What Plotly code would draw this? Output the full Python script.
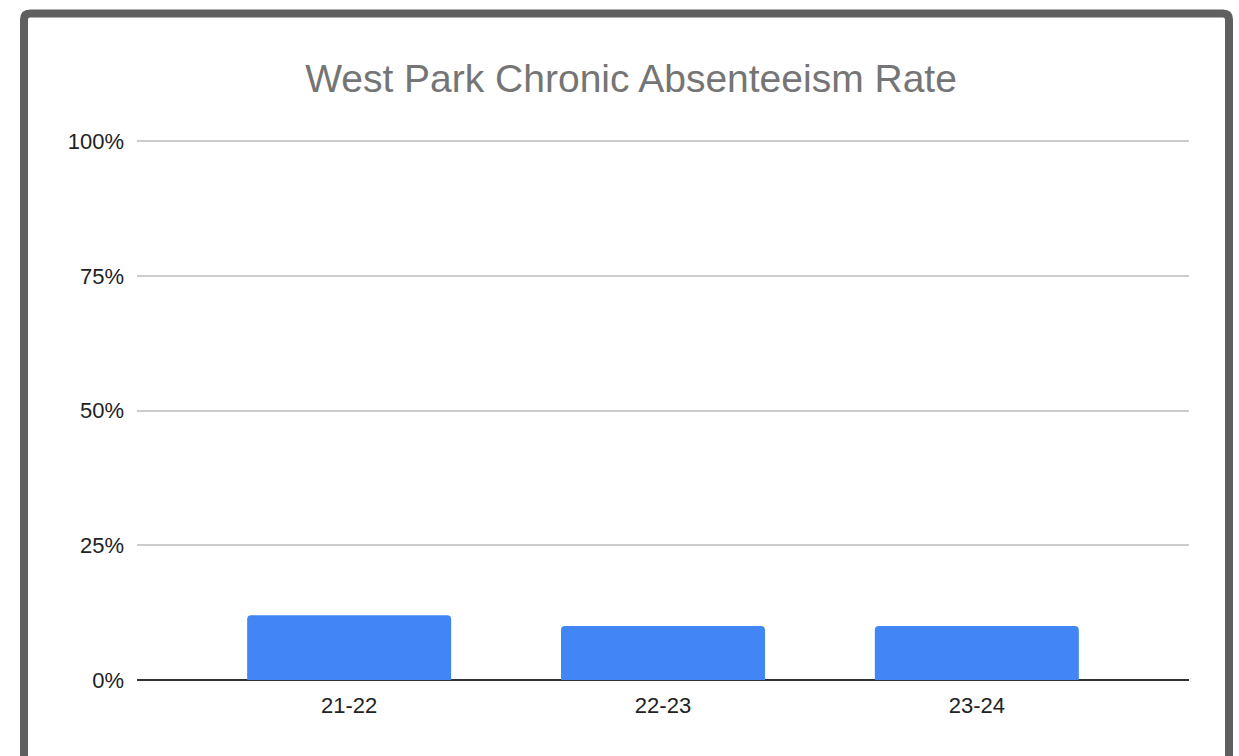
import plotly.graph_objects as go

categories = ["21-22", "22-23", "23-24"]
rates = [0.12, 0.10, 0.10]
y_ticks = [0, 0.25, 0.5, 0.75, 1.0]
y_tick_labels = ["0%", "25%", "50%", "75%", "100%"]

W, H = 1239, 756
ml, mr, mt, mb = 137, 50, 140, 76
pw, ph = W - ml - mr, H - mt - mb

def px_x(p):
    return (p - ml) / pw

def px_y(p):
    return (H - mb - p) / ph

# rounded border path (pixel geometry converted to paper coords)
bx0, bx1, by0, by1, r = 24, 1229, 13.5, 800, 6
def pt(x, y):
    return f"{px_x(x):.5f},{px_y(y):.5f}"
border_path = (
    f"M {pt(bx0, by1)} L {pt(bx0, by0 + r)} Q {pt(bx0, by0)} {pt(bx0 + r, by0)} "
    f"L {pt(bx1 - r, by0)} Q {pt(bx1, by0)} {pt(bx1, by0 + r)} L {pt(bx1, by1)}"
)

fig = go.Figure(go.Bar(
    x=categories, y=rates,
    marker=dict(color="#4285F4", cornerradius=4, line=dict(width=0)),
    hoverinfo="skip",
))

fig.update_layout(
    width=W, height=H,
    margin=dict(l=ml, r=mr, t=mt, b=mb),
    paper_bgcolor="white", plot_bgcolor="white",
    font=dict(family="Arial, Liberation Sans, sans-serif", color="#222222", size=22),
    bargap=0.35,
    showlegend=False,
    title=dict(
        text="West Park Chronic Absenteeism Rate",
        x=631 / W, xref="container", xanchor="center",
        y=1 - 78 / H, yanchor="middle",
        font=dict(size=39, color="#757575", family="Arial, Liberation Sans, sans-serif"),
    ),
    xaxis=dict(
        range=[-0.676, 2.676],
        showgrid=False, showline=False, zeroline=False,
        ticks="", ticklabelstandoff=10,
        tickfont=dict(size=22, color="#222222"),
    ),
    yaxis=dict(
        range=[0, 1.002], tickvals=y_ticks, ticktext=y_tick_labels,
        showgrid=True, gridcolor="#cccccc", gridwidth=1.5,
        zeroline=True, zerolinecolor="#333333", zerolinewidth=2,
        showline=False, ticks="", ticklabelstandoff=12,
        tickfont=dict(size=22, color="#222222"),
    ),
    shapes=[dict(
        type="path", xref="paper", yref="paper", path=border_path,
        line=dict(color="#5f5f5f", width=8), fillcolor="rgba(0,0,0,0)",
        layer="above",
    )],
)

fig.write_html(
    "out.html",
    config={"displayModeBar": False},
    post_script="document.body.style.margin='0px';",
)
